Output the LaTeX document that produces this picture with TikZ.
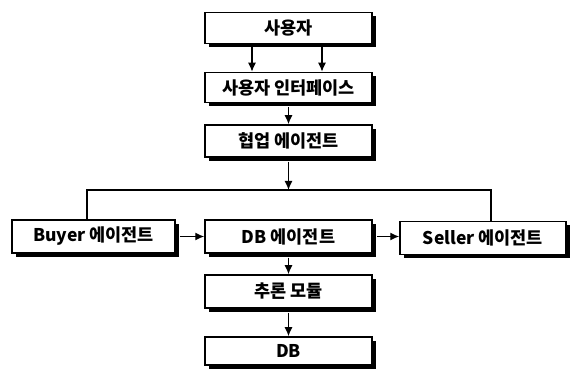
\documentclass[tikz,border=0pt]{standalone}
\usepackage{fontspec}
\setmainfont{Noto Sans CJK KR}
\usetikzlibrary{arrows.meta,shadows}
\begin{document}
\begin{tikzpicture}[x=1pt,y=-1pt,
  box/.style={draw=black,line width=1.5pt,fill=white,inner sep=0pt,
    minimum width=167pt,minimum height=31pt,font=\fontsize{17.5}{19}\selectfont\bfseries,
    general shadow={fill=black,shadow xshift=4pt,shadow yshift=-4pt}},
  arr/.style={line width=1.4pt,-{Latex[length=9pt,width=8pt]}},
  ln/.style={line width=1.4pt}]
\useasboundingbox (0,0) rectangle (571,374);
\node[box] (user) at (288.5,28) {사용자};
\node[box,minimum height=30pt] (ui) at (288.5,87.5) {사용자 인터페이스};
\node[box,minimum height=32pt] (coop) at (288.5,141) {협업 에이전트};
\node[box,minimum width=163pt,minimum height=33pt] (buyer) at (93.5,236.5) {Buyer 에이전트};
\node[box,minimum height=33pt] (dba) at (288.5,236.5) {DB 에이전트};
\node[box,minimum width=166pt,minimum height=33pt] (seller) at (483,238) {Seller 에이전트};
\node[box,minimum height=33pt] (infer) at (288.5,291.5) {추론 모듈};
\node[box,minimum height=28pt] (db) at (288.5,351) {DB};
\coordinate (j) at (288.5,190);
\coordinate (bl) at (87,190);
\coordinate (br) at (491,190);
\draw[arr] ([xshift=-36.5pt]user.south) -- ([xshift=-36.5pt]ui.north);
\draw[arr] ([xshift=33.5pt]user.south) -- ([xshift=33.5pt]ui.north);
\draw[arr] ([yshift=-4pt]ui.south) -- (coop.north);
\draw[arr] ([yshift=-4pt]coop.south) -- (j);
\draw[ln] (buyer.north -| bl) -- (bl) -- (br) -- (seller.north -| br);
\draw[arr] ([xshift=4pt]buyer.east) -- (dba.west);
\draw[arr] ([xshift=4pt]dba.east) -- (seller.west |- dba.east);
\draw[arr] ([yshift=-4pt]dba.south) -- (infer.north);
\draw[arr] ([yshift=-4pt]infer.south) -- (db.north);
\end{tikzpicture}
\end{document}
